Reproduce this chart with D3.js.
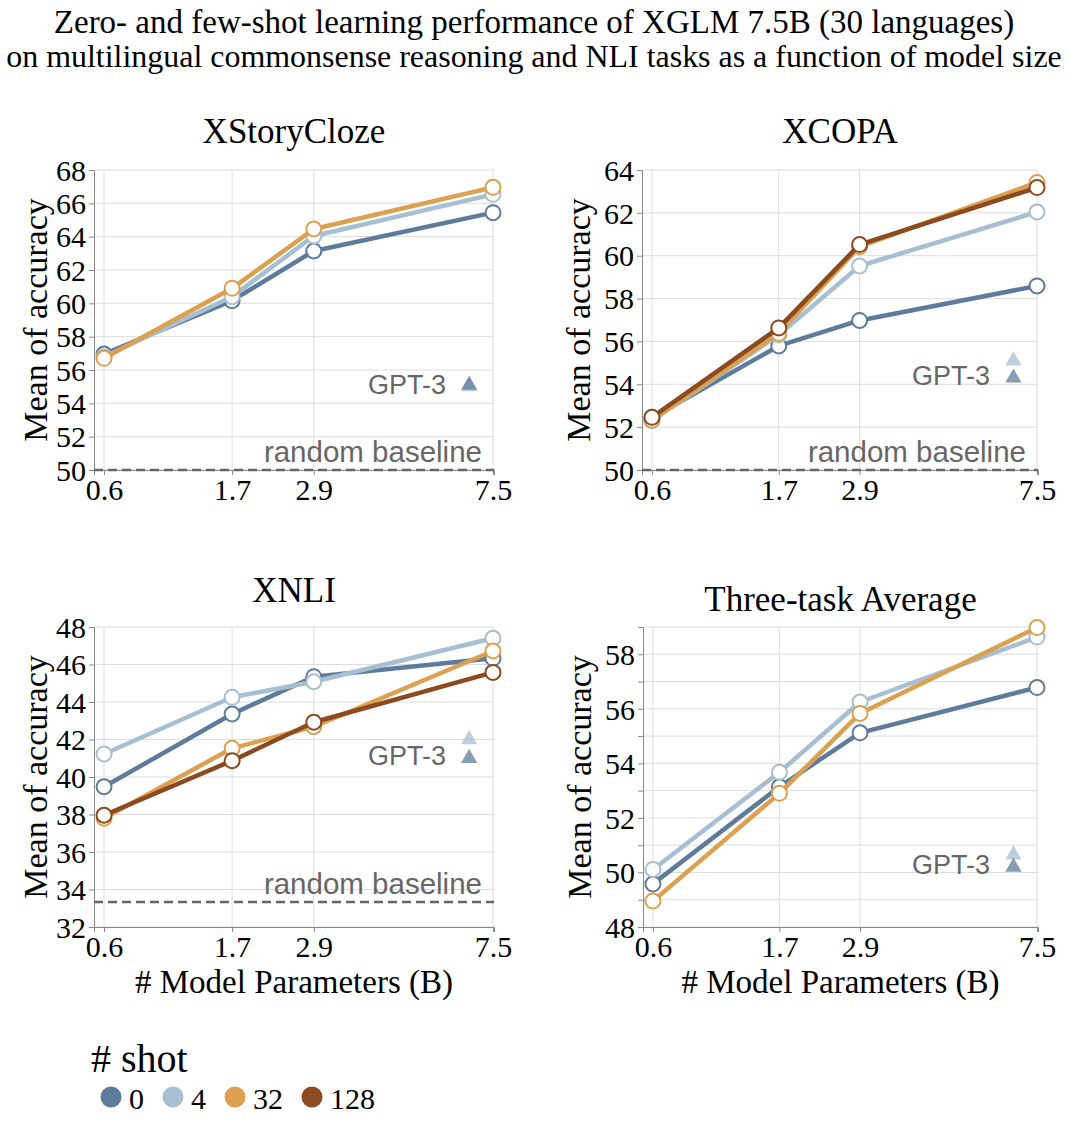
<!DOCTYPE html>
<html>
<head>
<meta charset="utf-8">
<script src="https://cdn.jsdelivr.net/npm/d3@7"></script>
<style>
body { margin: 0; background: #fff; }
</style>
</head>
<body>
<div class="container"></div>
<script>
const WIDTH = 1068;
const HEIGHT = 1122;
const SERIF = '"Liberation Serif","Times New Roman",serif';
const SANS = '"Liberation Sans",Arial,Helvetica,sans-serif';

// model sizes (B) and shot settings
const sizes = [0.6, 1.7, 2.9, 7.5];
const shots = ['0', '4', '32', '128'];
const shotColors = ['#5f7b9c', '#a6bfd3', '#dba050', '#8b4a1f'];
const gpt3Size = 6.7;

// mean accuracy per task, one array per shot setting
const xstorycloze0 = [56.96, 60.16, 63.14, 65.44];
const xstorycloze4 = [56.8, 60.4, 64.04, 66.54];
const xstorycloze32 = [56.7, 60.9, 64.46, 66.96];

const xcopa0 = [52.44, 55.79, 56.98, 58.59];
const xcopa4 = [52.3, 56.3, 59.52, 62.04];
const xcopa32 = [52.33, 56.38, 60.42, 63.42];
const xcopa128 = [52.46, 56.63, 60.52, 63.18];

const xnli0 = [39.48, 43.36, 45.35, 46.33];
const xnli4 = [41.23, 44.25, 45.08, 47.4];
const xnli32 = [37.8, 41.53, 42.68, 46.72];
const xnli128 = [37.96, 40.87, 42.92, 45.58];

const avg0 = [49.58, 53.14, 55.12, 56.78];
const avg4 = [50.11, 53.67, 56.25, 58.63];
const avg32 = [48.95, 52.9, 55.83, 58.98];

// GPT-3 6.7B reference: [0-shot, few-shot]
const gpt3Xstorycloze = [55.1, 55.0];
const gpt3Xcopa = [54.3, 55.1];
const gpt3Xnli = [41.0, 42.0];
const gpt3Avg = [50.2, 50.65];

const titleLines = [
	'Zero- and few-shot learning performance of XGLM 7.5B (30 languages)',
	'on multilingual commonsense reasoning and NLI tasks as a function of model size'
];

var panels = [
	{ title: 'XStoryCloze', series: [[0, xstorycloze0], [1, xstorycloze4], [2, xstorycloze32]],
	  y: [50, 68], grid: 2, baseline: 50, gpt3: gpt3Xstorycloze,
	  left: 94, top: 170, w: 400, titleY: 143, yTitleDx: -47, xTitle: false },
	{ title: 'XCOPA', series: [[0, xcopa0], [1, xcopa4], [2, xcopa32], [3, xcopa128]],
	  y: [50, 64], grid: 2, baseline: 50, gpt3: gpt3Xcopa,
	  left: 642, top: 170, w: 396, titleY: 143, yTitleDx: -52, xTitle: false },
	{ title: 'XNLI', series: [[0, xnli0], [1, xnli4], [2, xnli32], [3, xnli128]],
	  y: [32, 48], grid: 2, baseline: 100 / 3, gpt3: gpt3Xnli,
	  left: 94, top: 627, w: 400, titleY: 602, yTitleDx: -47, xTitle: true },
	{ title: 'Three-task Average', series: [[0, avg0], [1, avg4], [2, avg32]],
	  y: [48, 59], grid: 1, baseline: null, gpt3: gpt3Avg,
	  left: 643, top: 627, w: 395, titleY: 611, yTitleDx: -52, xTitle: true }
];
const PH = 300;

var svg = d3.select('.container').append('svg')
	.attr('width', WIDTH)
	.attr('height', HEIGHT);

// main title, shrunk per line so it stays inside the page
svg.selectAll('text.maintitle')
	.data(titleLines)
	.enter().append('text')
	.attr('class', 'maintitle')
	.attr('x', WIDTH / 2)
	.attr('y', function(d, i) { return 33 + i * 34; })
	.attr('text-anchor', 'middle')
	.style('font-family', SERIF)
	.style('font-size', '33px')
	.text(function(d) { return d; })
	.each(function() {
		var len = this.getComputedTextLength();
		if (len > 1056) d3.select(this).style('font-size', (33 * 1056 / len) + 'px');
	});

var drawPanel = function(p) {
	var g = svg.append('g').attr('transform', 'translate(' + p.left + ',' + p.top + ')');

	var x = d3.scalePow().exponent(0.28)
		.domain([0.545, 7.535])
		.range([0, p.w]);
	var y = d3.scaleLinear()
		.domain(p.y)
		.range([PH, 0]);

	var gridVals = d3.range(p.y[0], p.y[1] + 0.001, p.grid);

	// grid
	g.append('g').selectAll('line')
		.data(gridVals)
		.enter().append('line')
		.attr('x1', 0).attr('x2', p.w)
		.attr('y1', function(d) { return y(d); })
		.attr('y2', function(d) { return y(d); })
		.attr('stroke', '#ddd');
	g.append('g').selectAll('line')
		.data(sizes)
		.enter().append('line')
		.attr('x1', function(d) { return x(d); })
		.attr('x2', function(d) { return x(d); })
		.attr('y1', 0).attr('y2', PH)
		.attr('stroke', '#ddd');

	// axes
	var yAxis = d3.axisLeft(y)
		.tickValues(gridVals)
		.tickSize(5)
		.tickPadding(3)
		.tickFormat(function(d) { return d % 2 === 0 ? d : ''; });
	var xAxis = d3.axisBottom(x)
		.tickValues(sizes)
		.tickSize(5)
		.tickPadding(3)
		.tickFormat(d3.format('.1f'));

	var ya = g.append('g').call(yAxis);
	var xa = g.append('g').attr('transform', 'translate(0,' + PH + ')').call(xAxis);
	[ya, xa].forEach(function(a) {
		a.attr('font-family', null);
		a.select('.domain').attr('stroke', '#888');
		a.selectAll('.tick line').attr('stroke', '#888');
		a.selectAll('text')
			.style('font-family', SERIF)
			.style('font-size', '30px')
			.attr('fill', '#000');
	});
	ya.selectAll('text').attr('dy', '0.34em');
	xa.selectAll('text').attr('dy', '0.74em');

	// random baseline
	if (p.baseline !== null) {
		g.append('line')
			.attr('x1', 0).attr('x2', p.w)
			.attr('y1', y(p.baseline)).attr('y2', y(p.baseline))
			.attr('stroke', '#666')
			.attr('stroke-width', 2.5)
			.attr('stroke-dasharray', '9,5');
		g.append('text')
			.attr('x', p.w - 12)
			.attr('y', y(p.baseline) - 8)
			.attr('text-anchor', 'end')
			.attr('fill', '#666')
			.style('font-family', SANS)
			.style('font-size', '29.5px')
			.text('random baseline');
	}

	// titles
	svg.append('text')
		.attr('x', p.left + p.w / 2)
		.attr('y', p.titleY)
		.attr('text-anchor', 'middle')
		.style('font-family', SERIF)
		.style('font-size', '35px')
		.text(p.title);

	g.append('text')
		.attr('transform', 'translate(' + p.yTitleDx + ',' + (PH / 2) + ') rotate(-90)')
		.attr('text-anchor', 'middle')
		.style('font-family', SERIF)
		.style('font-size', '34px')
		.text('Mean of accuracy');

	if (p.xTitle) {
		g.append('text')
			.attr('x', p.w / 2)
			.attr('y', PH + 66)
			.attr('text-anchor', 'middle')
			.style('font-family', SERIF)
			.style('font-size', '33px')
			.text('# Model Parameters (B)');
	}

	// GPT-3 reference
	g.append('text')
		.attr('x', p.w - 48)
		.attr('y', y(Math.min(p.gpt3[0], p.gpt3[1])) + 7)
		.attr('text-anchor', 'end')
		.attr('fill', '#666')
		.style('font-family', SANS)
		.style('font-size', '27px')
		.text('GPT-3');
	g.selectAll('path.gpt3')
		.data([[1, p.gpt3[1]], [0, p.gpt3[0]]])
		.enter().append('path')
		.attr('class', 'gpt3')
		.attr('d', d3.symbol(d3.symbolTriangle).size(115))
		.attr('transform', function(d) { return 'translate(' + x(gpt3Size) + ',' + y(d[1]) + ')'; })
		.attr('fill', function(d) { return shotColors[d[0]]; })
		.attr('opacity', 0.75);

	// series
	var line = d3.line()
		.x(function(d, i) { return x(sizes[i]); })
		.y(function(d) { return y(d); });

	p.series.forEach(function(s) {
		var col = shotColors[s[0]];
		g.append('path')
			.attr('d', line(s[1]))
			.attr('fill', 'none')
			.attr('stroke', col)
			.attr('stroke-width', 4.5)
			.attr('stroke-linejoin', 'round');
		g.append('g').selectAll('circle')
			.data(s[1])
			.enter().append('circle')
			.attr('cx', function(d, i) { return x(sizes[i]); })
			.attr('cy', function(d) { return y(d); })
			.attr('r', 7.5)
			.attr('fill', '#fff')
			.attr('stroke', col)
			.attr('stroke-width', 2);
	});
};

panels.forEach(drawPanel);

// legend
svg.append('text')
	.attr('x', 91)
	.attr('y', 1072)
	.style('font-family', SERIF)
	.style('font-size', '40px')
	.text('# shot');

var lx = 111;
shots.forEach(function(s, i) {
	svg.append('circle')
		.attr('cx', lx).attr('cy', 1097)
		.attr('r', 10.5)
		.attr('fill', shotColors[i]);
	var t = svg.append('text')
		.attr('x', lx + 18)
		.attr('y', 1109)
		.style('font-family', SERIF)
		.style('font-size', '30px')
		.text(s);
	lx += 18 + t.node().getComputedTextLength() + 29;
});
</script>
</body>
</html>
